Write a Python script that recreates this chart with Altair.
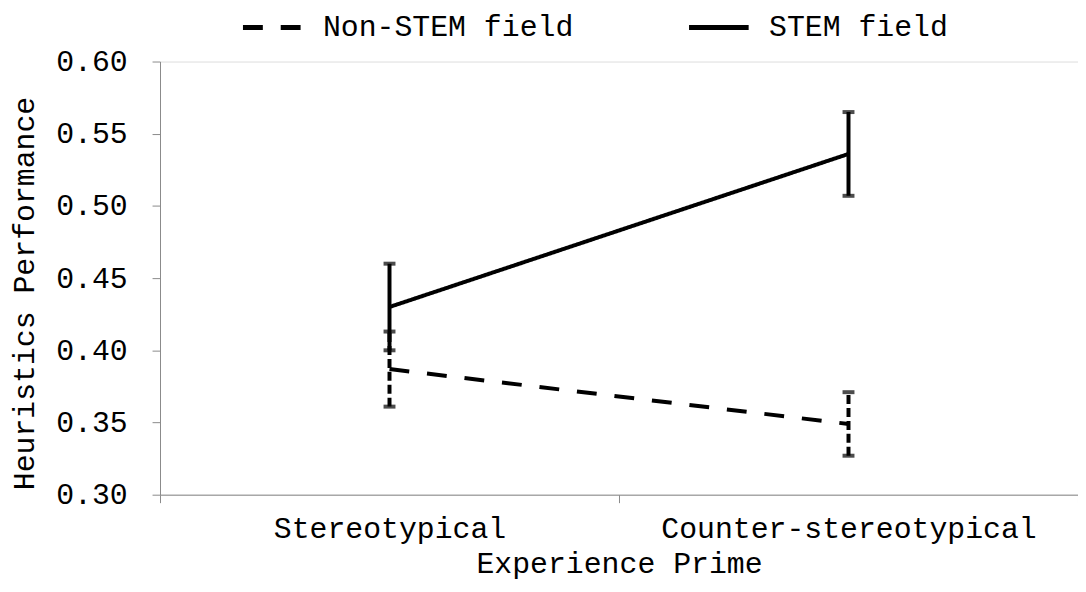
import altair as alt
import pandas as pd

categories = ["Stereotypical", "Counter-stereotypical"]
series = ["Non-STEM field", "STEM field"]
nonstem_mean = [0.387, 0.349]
nonstem_err = [0.026, 0.022]
stem_mean = [0.430, 0.536]
stem_err = [0.030, 0.029]

rows = []
for s, means, errs in [(series[0], nonstem_mean, nonstem_err), (series[1], stem_mean, stem_err)]:
    for c, m, e in zip(categories, means, errs):
        rows.append({"cat": c, "series": s, "mean": m, "lo": m - e, "hi": m + e})
df = pd.DataFrame(rows)

FONT = "Courier New, Nimbus Mono PS, FreeMono, Liberation Mono, monospace"
FS = 30
AXC = "#8a8a8a"

x = alt.X("cat:N", sort=categories,
          scale=alt.Scale(type="band", paddingInner=0, paddingOuter=0),
          axis=alt.Axis(title="Experience Prime", tickBand="extent", labelAngle=0,
                        domainColor=AXC, tickColor=AXC, tickSize=8, labelPadding=11,
                        labelLimit=0,
                        labelFont=FONT, labelFontSize=FS, labelColor="black",
                        titleFont=FONT, titleFontSize=FS, titleFontWeight="normal",
                        titleColor="black", titlePadding=5))
y_scale = alt.Scale(domain=[0.30, 0.60], nice=False, zero=False)
y = alt.Y("mean:Q", scale=y_scale,
          axis=alt.Axis(title="Heuristics Performance", values=[0.30, 0.35, 0.40, 0.45, 0.50, 0.55, 0.60],
                        format=".2f", domainColor=AXC, tickColor=AXC, tickSize=8, labelPadding=25,
                        labelFont=FONT, labelFontSize=FS, labelColor="black", grid=False,
                        titleFont=FONT, titleFontSize=FS, titleFontWeight="normal", titleColor="black",
                        titleAngle=-90, titleX=-136, titleY=233, titleAlign="center",
                        titleBaseline="middle"))

base = alt.Chart(df)

lines = base.mark_line(color="black", strokeWidth=4).encode(
    x=x, y=y,
    strokeDash=alt.StrokeDash("series:N", sort=series,
                              scale=alt.Scale(domain=series, range=[[20, 18], [1, 0]]),
                              legend=alt.Legend(title=None, orient="none", legendX=81, legendY=-67,
                                                direction="horizontal", symbolType="stroke",
                                                symbolSize=3600, symbolStrokeWidth=5,
                                                symbolStrokeColor="black", labelFont=FONT,
                                                labelFontSize=FS, labelColor="black", labelOffset=18,
                                                columnPadding=105, labelLimit=400)),
)

def errbars(s, dash):
    b = base.transform_filter(alt.datum.series == s)
    rule = b.mark_rule(color="black", strokeWidth=4, strokeDash=dash).encode(
        x=alt.X("cat:N", sort=categories), y=alt.Y("lo:Q", scale=y_scale), y2="hi:Q")
    cap_lo = b.mark_tick(color="black", size=12, thickness=4, orient="horizontal").encode(
        x=alt.X("cat:N", sort=categories), y=alt.Y("lo:Q", scale=y_scale))
    cap_hi = b.mark_tick(color="black", size=12, thickness=4, orient="horizontal").encode(
        x=alt.X("cat:N", sort=categories), y=alt.Y("hi:Q", scale=y_scale))
    return rule + cap_lo + cap_hi

chart = alt.layer(lines, errbars(series[0], [9, 4]), errbars(series[1], [1, 0])).properties(
    width=924, height=436,
    autosize=alt.AutoSizeParams(type="none"),
    padding={"left": 153, "top": 52, "right": 0, "bottom": 88},
).configure_view(stroke=None).configure(background="white")

chart.save("out.html", embed_options={"renderer": "svg", "actions": False})
